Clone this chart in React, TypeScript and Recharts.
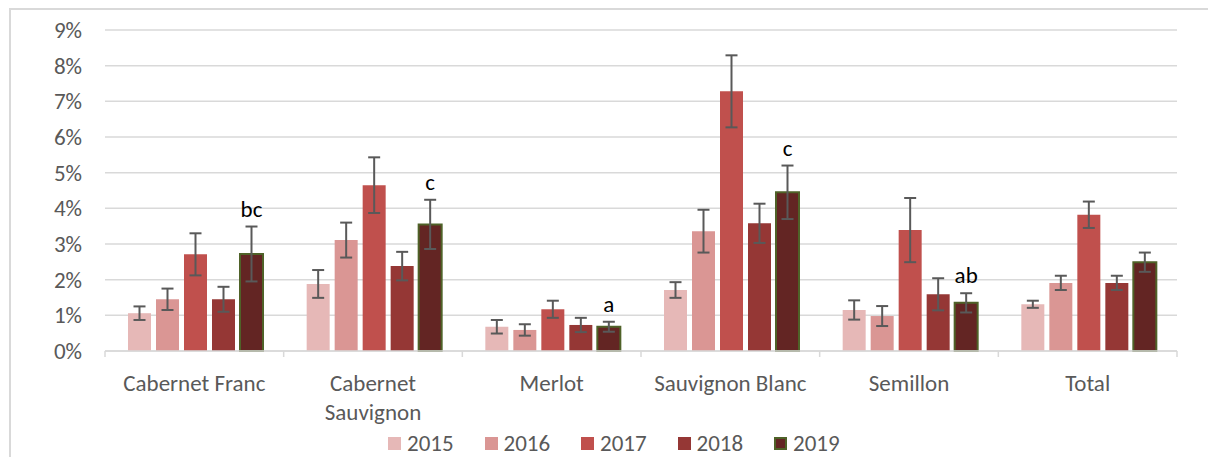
import React from 'react';
import { BarChart, Bar, XAxis, YAxis, CartesianGrid, ErrorBar, LabelList } from 'recharts';

const categories = ['Cabernet Franc', 'Cabernet Sauvignon', 'Merlot', 'Sauvignon Blanc', 'Semillon', 'Total'];
const years = ['2015', '2016', '2017', '2018', '2019'];

// mean values (%) and +/- error per category
const v2015 = [1.06, 1.88, 0.68, 1.71, 1.15, 1.31];
const e2015 = [0.19, 0.39, 0.19, 0.22, 0.27, 0.1];
const v2016 = [1.45, 3.11, 0.59, 3.36, 0.98, 1.91];
const e2016 = [0.3, 0.49, 0.16, 0.6, 0.28, 0.2];
const v2017 = [2.71, 4.65, 1.17, 7.28, 3.39, 3.82];
const e2017 = [0.59, 0.78, 0.24, 1.01, 0.9, 0.37];
const v2018 = [1.45, 2.38, 0.73, 3.58, 1.59, 1.91];
const e2018 = [0.35, 0.4, 0.2, 0.55, 0.45, 0.2];
const v2019 = [2.72, 3.55, 0.68, 4.45, 1.35, 2.49];
const e2019 = [0.77, 0.69, 0.14, 0.75, 0.27, 0.27];
const letters2019 = ['bc', 'c', 'a', 'c', 'ab', ''];

const yTicks = [0, 1, 2, 3, 4, 5, 6, 7, 8, 9];

const values = [v2015, v2016, v2017, v2018, v2019];
const errors = [e2015, e2016, e2017, e2018, e2019];
const fills = ['#E6B8B7', '#DA9694', '#C0504D', '#953735', '#632523'];
const strokes = ['none', 'none', 'none', 'none', '#4F6228'];

const data = categories.map((name, i) => {
  const row: any = { name };
  years.forEach((yr, s) => {
    row['v' + yr] = values[s][i];
    row['e' + yr] = errors[s][i];
  });
  return row;
});

const FONT = 'Carlito, Lato, sans-serif';
const GRID = '#D9D9D9';
const TEXT = '#595959';
const FS = 23;

function wrapLabel(label: string) {
  if (label.length <= 16) return [label];
  const words = label.split(' ');
  return [words.slice(0, 1).join(' '), words.slice(1).join(' ')];
}

function CategoryTick(props: any) {
  const { x, y, payload, width, visibleTicksCount, index } = props;
  const band = width / visibleTicksCount;
  const lines = wrapLabel(payload.value);
  return (
    <g>
      <line x1={x - band / 2} x2={x - band / 2} y1={y} y2={y + 6} stroke={GRID} strokeWidth={1.5} />
      {index === visibleTicksCount - 1 && (
        <line x1={x + band / 2} x2={x + band / 2} y1={y} y2={y + 6} stroke={GRID} strokeWidth={1.5} />
      )}
      <text x={x} y={y} textAnchor="middle" fill={TEXT} fontSize={FS} fontFamily={FONT}>
        {lines.map((l, i) => (
          <tspan key={i} x={x} dy={i === 0 ? 40 : 29}>
            {l}
          </tspan>
        ))}
      </text>
    </g>
  );
}

function LetterLabel(props: any) {
  const { x, y, width, height, value, index } = props;
  const letter = letters2019[index];
  if (!letter) return null;
  const errTop = y - e2019[index] * (height / value);
  return (
    <text x={x + width / 2} y={errTop - 10} textAnchor="middle" fill="#000" fontSize={FS} fontFamily={FONT}>
      {letter}
    </text>
  );
}

export default function App() {
  return (
    <div style={{ position: 'absolute', left: 0, top: 0, width: 1208, height: 457, background: '#fff', overflow: 'hidden', fontFamily: FONT }}>
      <div style={{ position: 'absolute', left: 9, top: 8, width: 1220, height: 470, border: `2px solid ${GRID}` }} />
      <div style={{ position: 'absolute', left: 0, top: 0 }}>
        <BarChart
          width={1208}
          height={457}
          data={data}
          margin={{ top: 30, right: 31, left: 0, bottom: 46 }}
          barCategoryGap={23}
          barGap={5}
        >
          <CartesianGrid vertical={false} stroke={GRID} strokeWidth={1.5} />
          <XAxis
            dataKey="name"
            height={60}
            interval={0}
            axisLine={{ stroke: GRID, strokeWidth: 1.5 }}
            tickLine={false}
            tickSize={0}
            tickMargin={0}
            tick={<CategoryTick />}
          />
          <YAxis
            width={105}
            domain={[0, 9]}
            ticks={yTicks}
            axisLine={false}
            tickLine={false}
            tickSize={0}
            tickMargin={23}
            tickFormatter={(v: number) => `${v}%`}
            tick={{ fill: TEXT, fontSize: FS, fontFamily: FONT }}
          />
          {years.map((yr, s) => (
            <Bar
              key={yr}
              dataKey={'v' + yr}
              name={yr}
              fill={fills[s]}
              stroke={strokes[s]}
              strokeWidth={2}
              isAnimationActive={false}
            >
              <ErrorBar dataKey={'e' + yr} width={6} stroke={TEXT} strokeWidth={2} />
              {yr === '2019' && <LabelList dataKey={'v' + yr} content={<LetterLabel />} />}
            </Bar>
          ))}
        </BarChart>
      </div>
      <div style={{ position: 'absolute', left: 388, top: 430, height: 27, display: 'flex', color: TEXT, fontSize: FS, lineHeight: '27px' }}>
        {years.map((yr, s) => (
          <div key={yr} style={{ width: 96.5, display: 'flex', alignItems: 'center' }}>
            <span
              style={{
                display: 'inline-block',
                width: s === 4 ? 9 : 13,
                height: s === 4 ? 9 : 13,
                background: fills[s],
                border: s === 4 ? `2px solid ${strokes[s]}` : 'none',
                marginRight: 6,
              }}
            />
            <span>{yr}</span>
          </div>
        ))}
      </div>
    </div>
  );
}
